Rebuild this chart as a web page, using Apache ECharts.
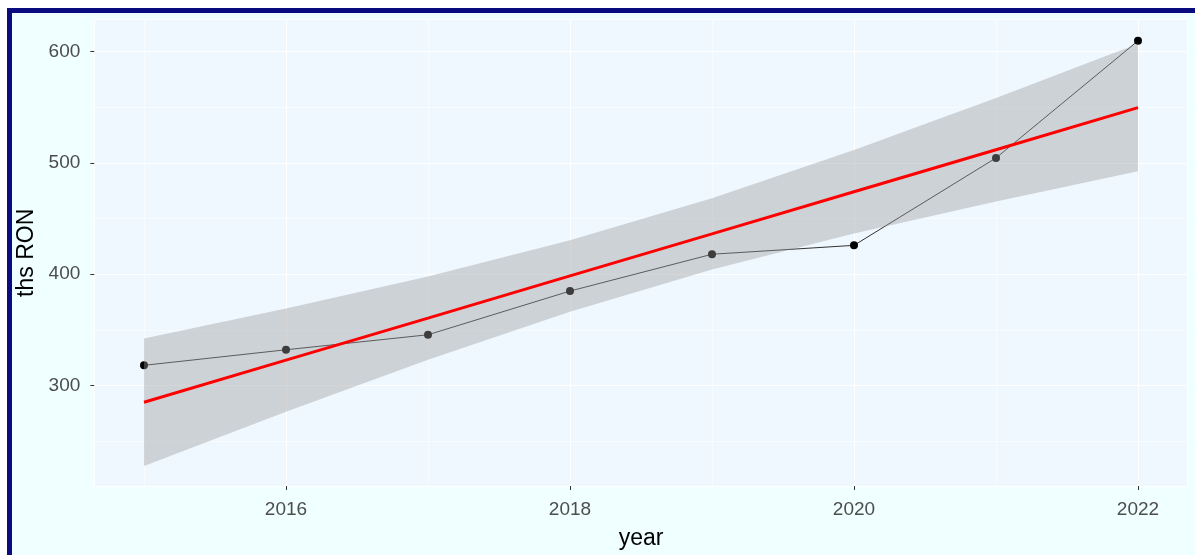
<!DOCTYPE html>
<html>
<head>
<meta charset="utf-8">
<script src="https://cdn.jsdelivr.net/npm/echarts@6/dist/echarts.min.js"></script>
<style>
  html, body { margin: 0; padding: 0; background: #ffffff; overflow: hidden; }
  #frame {
    position: absolute; left: 7px; top: 8px; width: 1300px; height: 700px;
    border-top: 5px solid #0b0b80; border-left: 5px solid #0b0b80;
    background: #f0ffff;
  }
  #chart { position: absolute; left: 0; top: 0; width: 1195px; height: 555px; }
</style>
</head>
<body>
<div id="frame"></div>
<div id="chart"></div>
<script>
// Yearly values, thousands of RON
const years = [2015, 2016, 2017, 2018, 2019, 2020, 2021, 2022];
const values = [318, 332, 345.5, 384.8, 417.9, 425.9, 504.5, 609.8];
// Linear trend and its 95% confidence band
const trend = [284.8, 322.7, 360.5, 398.4, 436.2, 474.1, 511.9, 549.8];
const bandLow = [227.5, 276.2, 323.0, 366.3, 404.1, 436.6, 465.4, 492.5];
const bandHigh = [342.1, 369.2, 398.0, 430.5, 468.3, 511.6, 558.4, 607.1];
// Labelled ticks
const xTickLabels = [2016, 2018, 2020, 2022];
const yTickLabels = [300, 400, 500, 600];

const FONT = '"Liberation Sans", Arial, sans-serif';
const xRange = [2014.65, 2022.35];
const yRange = [209.5, 628.9];

const chart = echarts.init(document.getElementById('chart'), null, { renderer: 'canvas' });

const hiddenAxisParts = {
  axisLine: { show: false }, axisTick: { show: false }, axisLabel: { show: false }
};

chart.setOption({
  animation: false,
  grid: {
    left: 94.3, right: 7.3, top: 19.6, bottom: 65.6,
    show: true, backgroundColor: '#f0f8ff', borderWidth: 0
  },
  xAxis: [
    {
      type: 'value', position: 'bottom', min: xRange[0], max: xRange[1],
      minInterval: 2, maxInterval: 2, splitNumber: 4,
      axisLine: { show: false },
      axisTick: { show: true, length: 4, lineStyle: { color: '#333333', width: 1 } },
      axisLabel: {
        margin: 14, color: '#4d4d4d', fontSize: 19, fontFamily: FONT,
        showMinLabel: false, showMaxLabel: false,
        formatter: v => (xTickLabels.indexOf(v) >= 0 ? String(v) : '')
      },
      splitLine: { show: true, lineStyle: { color: '#ffffff', width: 1 } },
      name: 'year', nameLocation: 'middle', nameGap: 41,
      nameTextStyle: { color: '#000000', fontSize: 23, fontFamily: FONT }
    },
    Object.assign({
      type: 'value', position: 'bottom', min: xRange[0], max: xRange[1],
      minInterval: 1, maxInterval: 1, splitNumber: 8,
      splitLine: { show: true, lineStyle: { color: '#ffffff', width: 0.6 } }
    }, hiddenAxisParts)
  ],
  yAxis: [
    {
      type: 'value', position: 'left', min: yRange[0], max: yRange[1],
      minInterval: 100, maxInterval: 100, splitNumber: 4,
      axisLine: { show: false },
      axisTick: { show: true, length: 4, lineStyle: { color: '#333333', width: 1 } },
      axisLabel: {
        margin: 14, color: '#4d4d4d', fontSize: 19, fontFamily: FONT,
        showMinLabel: false, showMaxLabel: false,
        formatter: v => (yTickLabels.indexOf(v) >= 0 ? String(v) : '')
      },
      splitLine: { show: true, lineStyle: { color: '#ffffff', width: 1 } },
      name: 'ths RON', nameLocation: 'middle', nameGap: 47, nameRotate: 90,
      nameTextStyle: { color: '#000000', fontSize: 23, fontFamily: FONT }
    },
    Object.assign({
      type: 'value', position: 'left', min: yRange[0], max: yRange[1],
      minInterval: 50, maxInterval: 50, splitNumber: 8,
      splitLine: { show: true, lineStyle: { color: '#ffffff', width: 0.6 } }
    }, hiddenAxisParts)
  ],
  series: [
    {
      // observed values
      type: 'line', xAxisIndex: 0, yAxisIndex: 0, z: 2,
      data: years.map((y, i) => [y, values[i]]),
      symbol: 'circle', symbolSize: 8, showSymbol: true,
      itemStyle: { color: '#000000' },
      lineStyle: { color: '#333333', width: 1 }
    },
    {
      // confidence band drawn as one polygon over the observed series
      type: 'custom', xAxisIndex: 0, yAxisIndex: 0, z: 3, silent: true,
      data: years.map((y, i) => [y, bandLow[i], bandHigh[i]]),
      encode: { x: 0, y: [1, 2] },
      renderItem: function (params, api) {
        if (params.dataIndex !== 0) return { type: 'group', children: [] };
        const pts = [];
        for (let i = 0; i < years.length; i++) pts.push(api.coord([years[i], bandHigh[i]]));
        for (let i = years.length - 1; i >= 0; i--) pts.push(api.coord([years[i], bandLow[i]]));
        return {
          type: 'polygon',
          shape: { points: pts },
          style: { fill: 'rgba(153,153,153,0.4)', stroke: null }
        };
      }
    },
    {
      // linear trend
      type: 'line', xAxisIndex: 0, yAxisIndex: 0, z: 4,
      data: years.map((y, i) => [y, trend[i]]),
      showSymbol: false, symbol: 'none',
      lineStyle: { color: '#ff0000', width: 3 }
    }
  ]
});
</script>
</body>
</html>
